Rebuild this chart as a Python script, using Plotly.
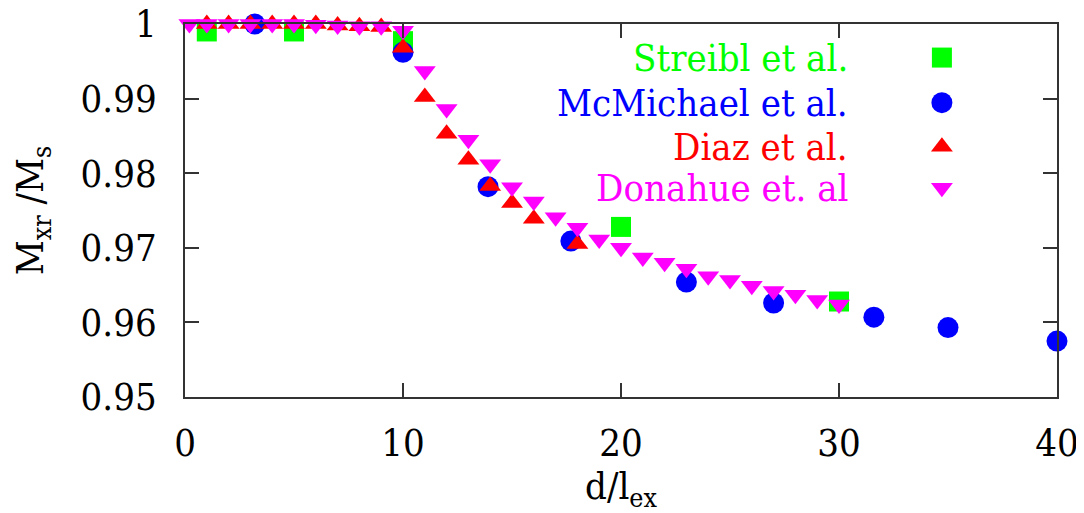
import plotly.graph_objects as go

# ---- data ----
streibl_x = [1, 5, 10, 20, 30]
streibl_y = [0.9990, 0.9990, 0.9977, 0.9728, 0.9628]

mcmichael_x = [3.2, 10, 13.9, 17.7, 23, 27, 31.6, 35, 40]
mcmichael_y = [1.0000, 0.9962, 0.9782, 0.9709, 0.9654, 0.9626, 0.9607, 0.9593, 0.9575]

diaz_x = [1, 2, 3, 4, 5, 6, 7, 8, 9, 10, 11, 12, 13, 14, 15, 16, 18]
diaz_y = [1.0, 1.0, 1.0, 1.0, 1.0, 1.0, 0.9998, 0.9997, 0.9996, 0.9968,
          0.9902, 0.9853, 0.9818, 0.9783, 0.9760, 0.9739, 0.9705]

donahue_x = [0.2, 1, 2, 3, 4, 5, 6, 7, 8, 9, 10, 11, 12, 13, 14, 15, 16, 17, 18,
             19, 20, 21, 22, 23, 24, 25, 26, 27, 28, 29, 30]
donahue_y = [1.0, 1.0, 1.0, 1.0, 1.0, 1.0, 0.9999, 0.9998, 0.9997, 0.9997, 0.9991,
             0.9937, 0.9886, 0.9845, 0.9812, 0.9781, 0.9762, 0.9741, 0.9727,
             0.9711, 0.9700, 0.9687, 0.9680, 0.9672, 0.9662, 0.9657, 0.9649,
             0.9642, 0.9637, 0.9630, 0.9624]

series_names = ["Streibl et al.", "McMichael et al.", "Diaz et al.", "Donahue et. al"]
series_colors = ["#00ff00", "#0000ff", "#ff0000", "#ff00ff"]
series_symbols = ["square", "circle", "triangle-up", "triangle-down"]
series_sizes = [20, 21, 19, 19]

x_ticks = [0, 10, 20, 30, 40]
x_ticktext = ["0", "10", "20", "30", "40"]
y_ticks = [0.95, 0.96, 0.97, 0.98, 0.99, 1.0]
y_ticktext = ["0.95", "0.96", "0.97", "0.98", "0.99", "1"]

# legend key positions (fractions of the plot area)
key_x = 0.868
key_y = [0.910, 0.789, 0.671, 0.561]
text_x = 0.7626

FONT = "DejaVu Serif Condensed, DejaVu Serif"
FS = 38

fig = go.Figure()
data = [(streibl_x, streibl_y), (mcmichael_x, mcmichael_y),
        (diaz_x, diaz_y), (donahue_x, donahue_y)]
for (xs, ys), name, col, sym, sz in zip(data, series_names, series_colors,
                                        series_symbols, series_sizes):
    fig.add_trace(go.Scatter(
        x=xs, y=ys, mode="markers", name=name, showlegend=False,
        marker=dict(symbol=sym, color=col, size=sz, line=dict(width=0)),
        cliponaxis=False,
    ))

# gnuplot-style key: marker to the right of the right-aligned text
for i, (name, col, sym, sz) in enumerate(zip(series_names, series_colors,
                                             series_symbols, series_sizes)):
    fig.add_trace(go.Scatter(
        x=[key_x], y=[key_y[i]], xaxis="x2", yaxis="y2", mode="markers",
        showlegend=False, hoverinfo="skip",
        marker=dict(symbol=sym, color=col, size=sz, line=dict(width=0)),
        cliponaxis=False,
    ))
    fig.add_annotation(
        x=text_x, y=key_y[i], xref="x2", yref="y2", text=name,
        showarrow=False, xanchor="right", yanchor="middle",
        font=dict(family=FONT, size=FS, color=col),
    )

axis_common = dict(
    showgrid=False, zeroline=False, showline=True, linecolor="#333333",
    linewidth=1.5, mirror="ticks", ticks="inside", ticklen=14,
    tickwidth=1.5, tickcolor="#333333", automargin=False,
    ticklabeloverflow="allow",
    tickfont=dict(family=FONT, size=FS, color="black"),
)

fig.update_layout(
    template="none",
    font=dict(family=FONT, size=FS, color="black"),
    width=1076, height=505,
    margin=dict(l=177, r=27, t=16, b=116, pad=0),
    paper_bgcolor="white", plot_bgcolor="white",
    showlegend=False,
    xaxis=dict(range=[0, 40], tickvals=x_ticks, ticktext=x_ticktext,
               title=dict(text="d/l<sub>ex</sub>",
                          font=dict(family=FONT, size=FS, color="black"),
                          standoff=0),
               ticklabelstandoff=12,
               **axis_common),
    yaxis=dict(range=[0.95, 1.0], tickvals=y_ticks, ticktext=y_ticktext,
               title=dict(text="M<sub>xr</sub> /M<sub>s</sub>",
                          font=dict(family=FONT, size=FS, color="black"),
                          standoff=29),
               ticklabelstandoff=19,
               **axis_common),
    xaxis2=dict(overlaying="x", range=[0, 1], visible=False),
    yaxis2=dict(overlaying="y", range=[0, 1], visible=False),
)

fig.write_html("out.html")
